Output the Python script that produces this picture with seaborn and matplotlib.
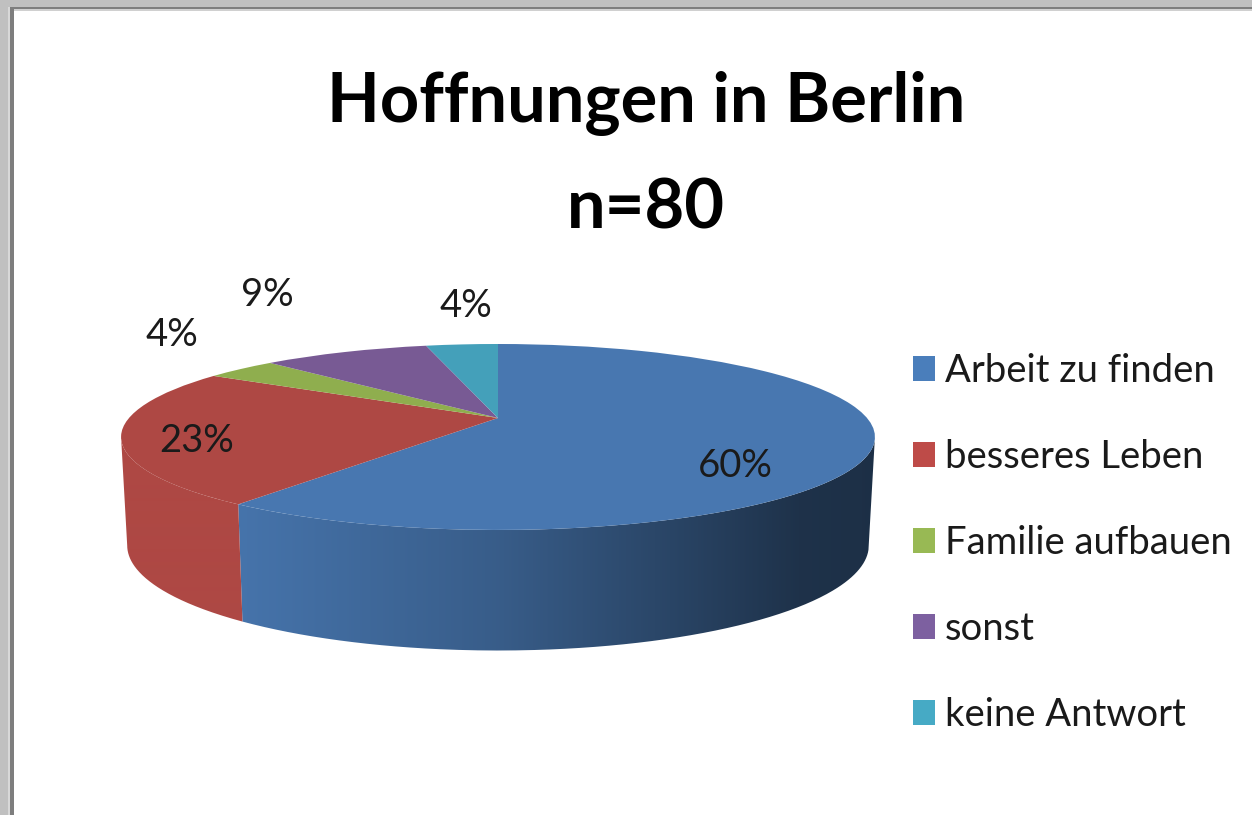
import numpy as np
import matplotlib
matplotlib.use("Agg")
import matplotlib.pyplot as plt
from matplotlib.colors import to_rgb
from matplotlib.patches import Patch, PathPatch, Rectangle
from matplotlib.path import Path
from matplotlib.transforms import Transform
import seaborn as sns

title_lines = ["Hoffnungen in Berlin", "n=80"]
categories = ["Arbeit zu finden", "besseres Leben", "Familie aufbauen", "sonst", "keine Antwort"]
counts = [48, 19, 3, 7, 3]
percent_labels = ["60%", "23%", "4%", "9%", "4%"]
top_colors = ["#4877B0", "#AE4844", "#8FAE4E", "#785A94", "#44A0BA"]
legend_colors = ["#4A7EBB", "#BE4B48", "#98B954", "#7D60A0", "#46AAC5"]

sns.set_theme(style="white")
plt.rcParams["font.family"] = ["Lato", "DejaVu Sans"]

W, H = 1252, 815
CX, K = 498.0, 0.204


def project(xy, a, b, ay):
    xy = np.asarray(xy, dtype=float)
    w = 1 + K * xy[..., 1]
    return np.stack([CX + a * xy[..., 0] / w, ay - b * xy[..., 1] / w], axis=-1)


TOP = dict(a=369.0, b=89.1, ay=418.0)
BOTTOM = dict(a=363.0, b=100.7, ay=524.0)


class TiltedDisc(Transform):
    input_dims = 2
    output_dims = 2
    is_separable = False
    has_inverse = False

    def transform_non_affine(self, values):
        return project(values, **TOP)


fig = plt.figure(figsize=(W / 100, H / 100), dpi=100, facecolor="#C0C0C0")
ax = fig.add_axes([0, 0, 1, 1])

wedges, _ = ax.pie(counts, colors=top_colors, startangle=90, counterclock=False,
                   wedgeprops=dict(linewidth=0, zorder=3))

# window frame
ax.add_patch(Rectangle((8, 7), W, H, fc="#D8D8D8", ec="none", zorder=0))
ax.add_patch(Rectangle((10, 7), W, H, fc="#7E7E7E", ec="none", zorder=0.1))
ax.add_patch(Rectangle((14, 9), W, H, fc="#D0D0D0", ec="none", zorder=0.2))
ax.add_patch(Rectangle((14, 11), W, H, fc="white", ec="none", zorder=0.3))

# extruded side of the front half, shaded by horizontal position
shade_x = [-1.0, -0.68, 0.0, 0.5, 0.8, 1.0]
shade_f = [1.0, 0.97, 0.78, 0.56, 0.42, 0.40]
grid = (np.arange(W) + 0.5 - CX) / 377.0
sil = np.degrees(np.arcsin(K))
for wedge, col in zip(wedges, top_colors):
    lo, hi = sorted((wedge.theta1, wedge.theta2))
    base = np.array(to_rgb(col))
    for off in (0, 360, -360):
        a0, a1 = max(lo + off, 180 + sil), min(hi + off, 360 - sil)
        if a1 <= a0:
            continue
        t = np.radians(np.linspace(a0, a1, 240))
        ring = np.column_stack([np.cos(t), np.sin(t)])
        poly = np.vstack([project(ring, **TOP), project(ring, **BOTTOM)[::-1]])
        f = np.interp(grid, shade_x, shade_f) if col == top_colors[0] else np.full(W, 1.0)
        strip = (base[None, :] * f[:, None])[None, :, :]
        im = ax.imshow(strip, extent=(0, W, H, 0), aspect="auto", zorder=2,
                       interpolation="bilinear")
        clip = PathPatch(Path(poly), transform=ax.transData, fc="none", ec="none")
        im.set_clip_path(clip)

tf = TiltedDisc() + ax.transData
for wedge in wedges:
    wedge.set_transform(tf)

ax.set_aspect("auto")
ax.set_xlim(0, W)
ax.set_ylim(H, 0)
ax.set_facecolor("#C0C0C0")
ax.set_frame_on(False)

# data labels
label_xy = [(735, 466), (197, 441), (172, 335), (267, 295), (466, 306)]
for txt, (lx, ly) in zip(percent_labels, label_xy):
    ax.text(lx, ly, txt, ha="center", va="center", fontsize=27.5,
            color="#1A1A1A", zorder=5)

# title
fig.text(646 / W, 1 - 104 / H, title_lines[0], ha="center", va="center",
         fontsize=49.4, fontweight="bold", color="black")
fig.text(646 / W, 1 - 209 / H, title_lines[1], ha="center", va="center",
         fontsize=49.4, fontweight="bold", color="black")

handles = [Patch(facecolor=c, edgecolor="none") for c in legend_colors]
leg = ax.legend(handles, categories, loc="upper left", bbox_to_anchor=(913 / W, 1 - 353 / H),
                frameon=False, fontsize=27.5, handlelength=0.58, handleheight=0.65,
                handletextpad=0.26, labelspacing=1.31, borderpad=0, borderaxespad=0,
                labelcolor="#1A1A1A")
leg.set_zorder(6)

fig.savefig("out.png", dpi=100, facecolor=fig.get_facecolor())
